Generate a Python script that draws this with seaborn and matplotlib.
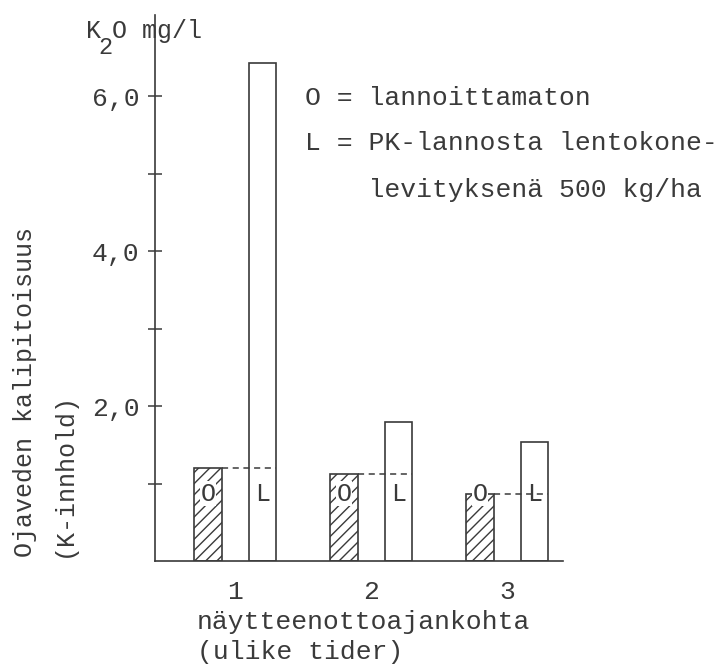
import matplotlib
matplotlib.use("Agg")
import matplotlib.pyplot as plt
import seaborn as sns
import pandas as pd

times = ["1", "2", "3"]
treatments = ["O", "L"]
values_O = [1.20, 1.12, 0.86]
values_L = [6.43, 1.79, 1.54]
ytick_major = [2, 4, 6]
ytick_labels = ["2,0", "4,0", "6,0"]
ytick_minor = [1, 3, 5]
legend_lines = ["O = lannoittamaton", "L = PK-lannosta lentokone-", "    levityksenä 500 kg/ha"]

sns.set_theme(style="white")
FONT = ["Liberation Mono", "DejaVu Sans Mono"]
plt.rcParams["font.family"] = FONT
plt.rcParams["hatch.linewidth"] = 1.0
INK = "#3a3a3a"
plt.rcParams["hatch.color"] = INK

df = pd.DataFrame({
    "time": times * 2,
    "treatment": ["O"] * 3 + ["L"] * 3,
    "value": values_O + values_L,
})

fig = plt.figure(figsize=(7.24, 6.70), dpi=100)
ax = fig.add_axes([155 / 724, 1 - 561 / 670, (563 - 155) / 724, (561 - 15) / 670])

sns.barplot(data=df, x="time", y="value", hue="treatment", order=times,
            hue_order=treatments, palette=["white", "white"], width=0.8, gap=0.5,
            edgecolor=INK, linewidth=1.2, legend=False, ax=ax, errorbar=None)

for p in ax.containers[0]:
    p.set_hatch("///")

# dashed reference lines and letters
for pO, pL, vO in zip(ax.containers[0], ax.containers[1], values_O):
    x0 = pO.get_x() + pO.get_width()
    x1 = pL.get_x() + pL.get_width()
    ax.hlines(vO, x0, x1, colors=INK, linestyles=(0, (4, 3)), linewidth=1.1)
    ax.text(pO.get_x() + pO.get_width() / 2, 0.87, "O", ha="center", va="center",
            fontsize=18, color=INK,
            bbox=dict(facecolor="white", edgecolor="none", pad=0.5))
    ax.text(pL.get_x() + pL.get_width() / 2, 0.87, "L", ha="center", va="center",
            fontsize=18, color=INK)

ax.set_xlim(-0.59, 2.41)
ax.set_ylim(0, 7.05)
sns.despine(ax=ax)
for s in ["left", "bottom"]:
    ax.spines[s].set_color(INK)
    ax.spines[s].set_linewidth(1.2)

ax.set_yticks(ytick_major)
ax.set_yticklabels(ytick_labels)
ax.set_yticks(ytick_minor, minor=True)
ax.tick_params(axis="y", which="both", direction="inout", length=10, width=1.1,
               color=INK, left=True, labelsize=19, labelcolor=INK, pad=6)
ax.tick_params(axis="x", length=0, labelsize=19, labelcolor=INK, pad=14)
ax.set_xlabel("")
ax.set_ylabel("")

# unit label K2O mg/l with a typewriter-style lowered "2"
fig.text(86 / 724, 1 - 31 / 670, "K", fontsize=18, color=INK, ha="left", va="center")
fig.text(98 / 724, 1 - 48 / 670, "2", fontsize=17, color=INK, ha="left", va="center")
fig.text(112 / 724, 1 - 31 / 670, "O mg/l", fontsize=18, color=INK, ha="left", va="center")

fig.text(305 / 724, 1 - 98 / 670, legend_lines[0], fontsize=19, color=INK,
         ha="left", va="center")
fig.text(305 / 724, 1 - 143 / 670, legend_lines[1], fontsize=19, color=INK,
         ha="left", va="center")
fig.text(305 / 724, 1 - 190 / 670, legend_lines[2], fontsize=19, color=INK,
         ha="left", va="center")

fig.text(197 / 724, 1 - 622 / 670, "näytteenottoajankohta", fontsize=19, color=INK,
         ha="left", va="center")
fig.text(197 / 724, 1 - 652 / 670, "(ulike tider)", fontsize=19, color=INK,
         ha="left", va="center")

fig.text(25 / 724, 1 - 557 / 670, "Ojaveden kalipitoisuus", fontsize=18, color=INK,
         rotation=90, ha="center", va="bottom")
fig.text(64 / 724, 1 - 557 / 670, "(K-innhold)", fontsize=18, color=INK,
         rotation=90, ha="center", va="bottom")

fig.savefig("out.png", dpi=100, facecolor="white")
